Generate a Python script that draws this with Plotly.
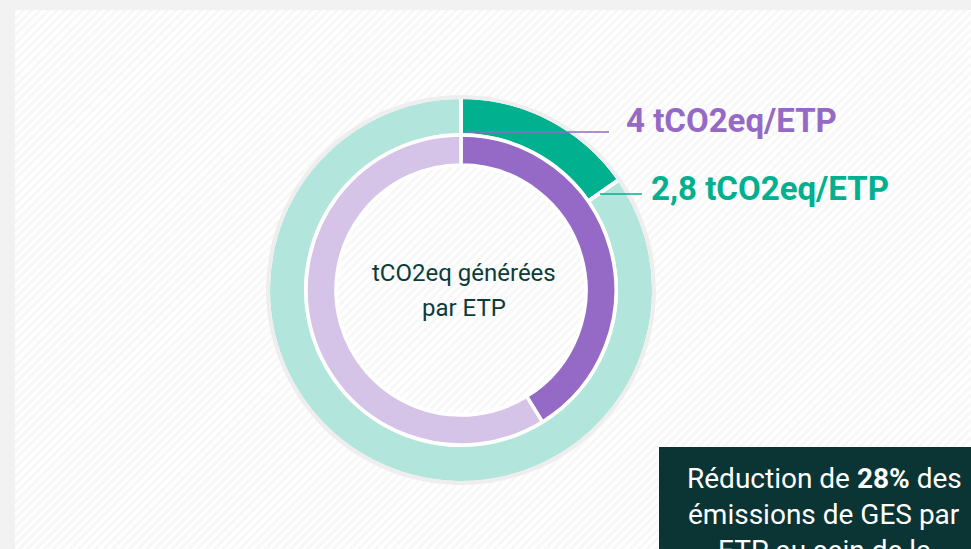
import plotly.graph_objects as go

W, H = 971, 549

# Data (share of each ring, in %)
outer_labels = ["2,8 tCO2eq/ETP", "reste"]
outer_values = [15.3, 84.7]
inner_labels = ["4 tCO2eq/ETP", "reste"]
inner_values = [41.2, 58.8]

label_outer = "2,8 tCO2eq/ETP"
label_inner = "4 tCO2eq/ETP"
center_lines = ["tCO2eq générées", "par ETP"]
box_lines = ["Réduction de <b>28%</b> des", "émissions de GES par", "ETP au sein de la"]

TEAL, TEAL_L = "#00b08e", "#b2e6dc"
PURP, PURP_L = "#9569c6", "#d5c4e8"
DARK = "#0c3c3a"
BOX = "#0b3434"

CX, CY = 461, 290


def px(x):
    return x / W


def py(y):
    return 1 - y / H


def dom(r):
    return dict(x=[px(CX - r), px(CX + r)], y=[py(CY + r), py(CY - r)])


fig = go.Figure()

# striped background panel
fig.add_trace(go.Bar(
    x=[0], y=[1], width=[1], xaxis="x", yaxis="y",
    marker=dict(color="#ffffff", line=dict(width=0),
                pattern=dict(shape="/", fgcolor="#f0f0f0", bgcolor="#ffffff",
                             size=6, solidity=0.45)),
    hoverinfo="skip", showlegend=False,
))

R_OUT, R_IN = 193, 155
fig.add_trace(go.Pie(
    labels=outer_labels, values=outer_values, sort=False, direction="clockwise",
    rotation=0, hole=155 / R_OUT, domain=dom(R_OUT),
    marker=dict(colors=[TEAL, TEAL_L], line=dict(color="#ffffff", width=4)),
    textinfo="none", hoverinfo="skip", showlegend=False,
))
# gray rim
fig.add_trace(go.Pie(
    labels=["rim"], values=[1], sort=False, hole=191 / 195, domain=dom(195),
    marker=dict(colors=["#eeeeee"], line=dict(width=0)),
    textinfo="none", hoverinfo="skip", showlegend=False,
))
fig.add_trace(go.Pie(
    labels=inner_labels, values=inner_values, sort=False, direction="clockwise",
    rotation=0, hole=125 / R_IN, domain=dom(R_IN),
    marker=dict(colors=[PURP, PURP_L], line=dict(color="#ffffff", width=3.5)),
    textinfo="none", hoverinfo="skip", showlegend=False,
))

shapes = [
    dict(type="line", xref="paper", yref="paper", x0=px(465), x1=px(609),
         y0=py(132), y1=py(132), line=dict(color=PURP, width=1.5), layer="above"),
    dict(type="line", xref="paper", yref="paper", x0=px(600), x1=px(642),
         y0=py(194), y1=py(194), line=dict(color=TEAL, width=1.5), layer="above"),
    dict(type="rect", xref="paper", yref="paper", x0=px(659), x1=1.02,
         y0=-0.02, y1=py(447), fillcolor=BOX, line=dict(width=0), layer="above"),
]

LBL_FONT = "Roboto"
ann = [
    dict(text=f"<b>{label_inner}</b>", x=px(624), y=py(121), xanchor="left", yanchor="middle",
         font=dict(family=LBL_FONT, size=33, color=PURP)),
    dict(text=f"<b>{label_outer}</b>", x=px(649), y=py(188), xanchor="left", yanchor="middle",
         font=dict(family=LBL_FONT, size=33, color=TEAL)),
]
for i, t in enumerate(center_lines):
    ann.append(dict(text=t, x=px(CX + 3), y=py(273 + 35 * i), xanchor="center", yanchor="middle",
                    font=dict(family=LBL_FONT, size=24, color=DARK)))
for i, t in enumerate(box_lines):
    ann.append(dict(text=t, x=px(824), y=py(478 + 36 * i), xanchor="center", yanchor="middle",
                    font=dict(family="Roboto", size=28, color="#ffffff")))
for a in ann:
    a.update(xref="paper", yref="paper", showarrow=False)

fig.update_layout(
    width=W, height=H, margin=dict(l=0, r=0, t=0, b=0),
    paper_bgcolor="#f2f2f2", plot_bgcolor="rgba(0,0,0,0)",
    xaxis=dict(domain=[px(15), 1], range=[-0.5, 0.5], visible=False, fixedrange=True),
    yaxis=dict(domain=[0, py(10)], range=[0, 1], visible=False, fixedrange=True),
    bargap=0, shapes=shapes, annotations=ann, showlegend=False,
)

fig.write_html("out.html", config={"displayModeBar": False},
               post_script="document.body.style.margin='0';document.body.style.overflow='hidden';")
